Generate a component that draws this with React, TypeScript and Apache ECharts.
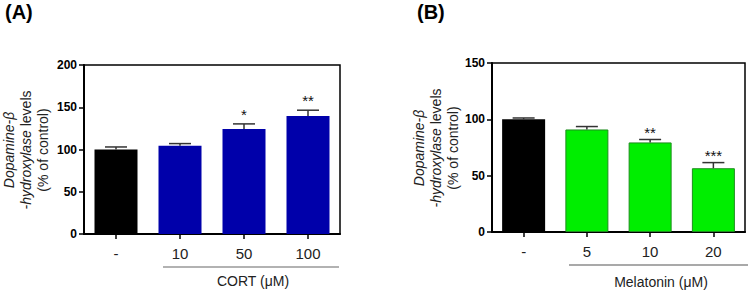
import React, { useEffect, useRef } from 'react';
import * as echarts from 'echarts';

const categoriesA = ['-', '10', '50', '100'];
const valuesA = [100, 104.5, 124.3, 139.5];
const errorsA = [3, 2.5, 6, 7];
const sigA = ['', '', '*', '**'];
const yMaxA = 200;

const categoriesB = ['-', '5', '10', '20'];
const valuesB = [100, 91, 79.5, 56.6];
const errorsB = [1.2, 2.6, 2.6, 5];
const sigB = ['', '', '**', '***'];
const yMaxB = 150;

const yInterval = 50;
const colorsA = ['#000000', '#0000AA', '#0000AA', '#0000AA'];
const colorsB = ['#000000', '#00EE00', '#00EE00', '#00EE00'];

const FONT = '"Liberation Sans", Arial, Helvetica, sans-serif';

export default function App() {
  const ref = useRef<HTMLDivElement>(null);
  useEffect(() => {
    if (!ref.current) return;
    const chart = echarts.init(ref.current, undefined, { renderer: 'svg' });

    const xAxisBase = (idx: number, cats: string[]) => ({
      type: 'category',
      gridIndex: idx,
      data: cats,
      boundaryGap: true,
      axisLine: { show: true, lineStyle: { color: '#000', width: 2 } },
      axisTick: { show: true, alignWithLabel: true, length: 5, lineStyle: { color: '#000', width: 1.5 } },
      axisLabel: { color: '#222', fontSize: 15, fontFamily: FONT, margin: 12 },
      splitLine: { show: false },
    });
    const yAxisBase = (idx: number, max: number) => ({
      type: 'value',
      gridIndex: idx,
      min: 0,
      max,
      interval: yInterval,
      axisLine: { show: true, lineStyle: { color: '#000', width: 2 } },
      axisTick: { show: true, length: 5, lineStyle: { color: '#000', width: 1.5 } },
      axisLabel: { color: '#000', fontSize: 12, fontWeight: 'bold', fontFamily: FONT, margin: 7 },
      splitLine: { show: false },
    });

    const errSeries = (idx: number, vals: number[], errs: number[], sig: string[], off: number) => ({
      type: 'custom',
      xAxisIndex: idx,
      yAxisIndex: idx,
      z: 5,
      data: vals.map((v, i) => [i, v, errs[i]]),
      renderItem: (params: any, api: any) => {
        const i = api.value(0);
        const v = api.value(1);
        const e = api.value(2);
        const base = api.coord([i, v]);
        const top = api.coord([i, v + e]);
        const hw = 11;
        const children: any[] = [
          { type: 'line', shape: { x1: base[0], y1: base[1], x2: top[0], y2: top[1] }, style: { stroke: '#333', lineWidth: 1.5 } },
          { type: 'line', shape: { x1: top[0] - hw, y1: top[1], x2: top[0] + hw, y2: top[1] }, style: { stroke: '#333', lineWidth: 1.5 } },
        ];
        const s = sig[params.dataIndex];
        if (s) {
          children.push({
            type: 'text',
            x: top[0],
            y: top[1] - off + 3.5,
            style: { text: s, fill: '#111', fontSize: 15, fontFamily: FONT, align: 'center', verticalAlign: 'middle' },
          });
        }
        return { type: 'group', children };
      },
    });

    const barSeries = (idx: number, vals: number[], colors: string[], border: string | null) => ({
      type: 'bar',
      xAxisIndex: idx,
      yAxisIndex: idx,
      barWidth: 43,
      data: vals.map((v, i) => ({
        value: v,
        itemStyle: {
          color: colors[i],
          borderColor: i === 0 || !border ? colors[i] : border,
          borderWidth: i === 0 || !border ? 0 : 1,
        },
      })),
    });

    const yTitle = (x: number, y: number) => ({
      type: 'text',
      x,
      y,
      rotation: Math.PI / 2,
      style: {
        text: '{i|Dopamine-β}\n{i|-hydroxylase} levels\n(% of control)',
        rich: { i: { fontStyle: 'italic', fontSize: 14, fontFamily: FONT, lineHeight: 17, fill: '#222' } },
        fontSize: 14,
        fontFamily: FONT,
        lineHeight: 17,
        fill: '#222',
        align: 'center',
        verticalAlign: 'middle',
      },
    });

    chart.setOption({
      animation: false,
      backgroundColor: '#fff',
      grid: [
        { left: 84, top: 65, width: 256, height: 169, show: true, borderColor: '#000', borderWidth: 1.5, backgroundColor: 'transparent' },
        { left: 492, top: 63, width: 253, height: 169, show: true, borderColor: '#000', borderWidth: 1.5, backgroundColor: 'transparent' },
      ],
      xAxis: [xAxisBase(0, categoriesA), xAxisBase(1, categoriesB)],
      yAxis: [yAxisBase(0, yMaxA), yAxisBase(1, yMaxB)],
      series: [
        barSeries(0, valuesA, colorsA, null),
        errSeries(0, valuesA, errorsA, sigA, 13),
        barSeries(1, valuesB, colorsB, '#1E8C1E'),
        errSeries(1, valuesB, errorsB, sigB, 10.5),
      ],
      graphic: [
        { type: 'text', x: 5, y: 2, style: { text: '(A)', fontSize: 20, fontWeight: 'bold', fontFamily: FONT, fill: '#000', verticalAlign: 'top' } },
        { type: 'text', x: 417, y: 2, style: { text: '(B)', fontSize: 20, fontWeight: 'bold', fontFamily: FONT, fill: '#000', verticalAlign: 'top' } },
        yTitle(26, 150),
        yTitle(436, 148),
        { type: 'line', shape: { x1: 163, y1: 267, x2: 339, y2: 267 }, style: { stroke: '#999', lineWidth: 1.5 } },
        { type: 'line', shape: { x1: 569, y1: 265, x2: 748, y2: 265 }, style: { stroke: '#555', lineWidth: 1.2 } },
        { type: 'text', x: 253, y: 281, style: { text: 'CORT (μM)', fontSize: 14, fontFamily: FONT, fill: '#222', align: 'center', verticalAlign: 'middle' } },
        { type: 'text', x: 661, y: 282, style: { text: 'Melatonin (μM)', fontSize: 14, fontFamily: FONT, fill: '#222', align: 'center', verticalAlign: 'middle' } },
      ],
    });
    return () => chart.dispose();
  }, []);

  return <div ref={ref} style={{ position: 'fixed', left: 0, top: 0, width: 750, height: 291 }} />;
}
